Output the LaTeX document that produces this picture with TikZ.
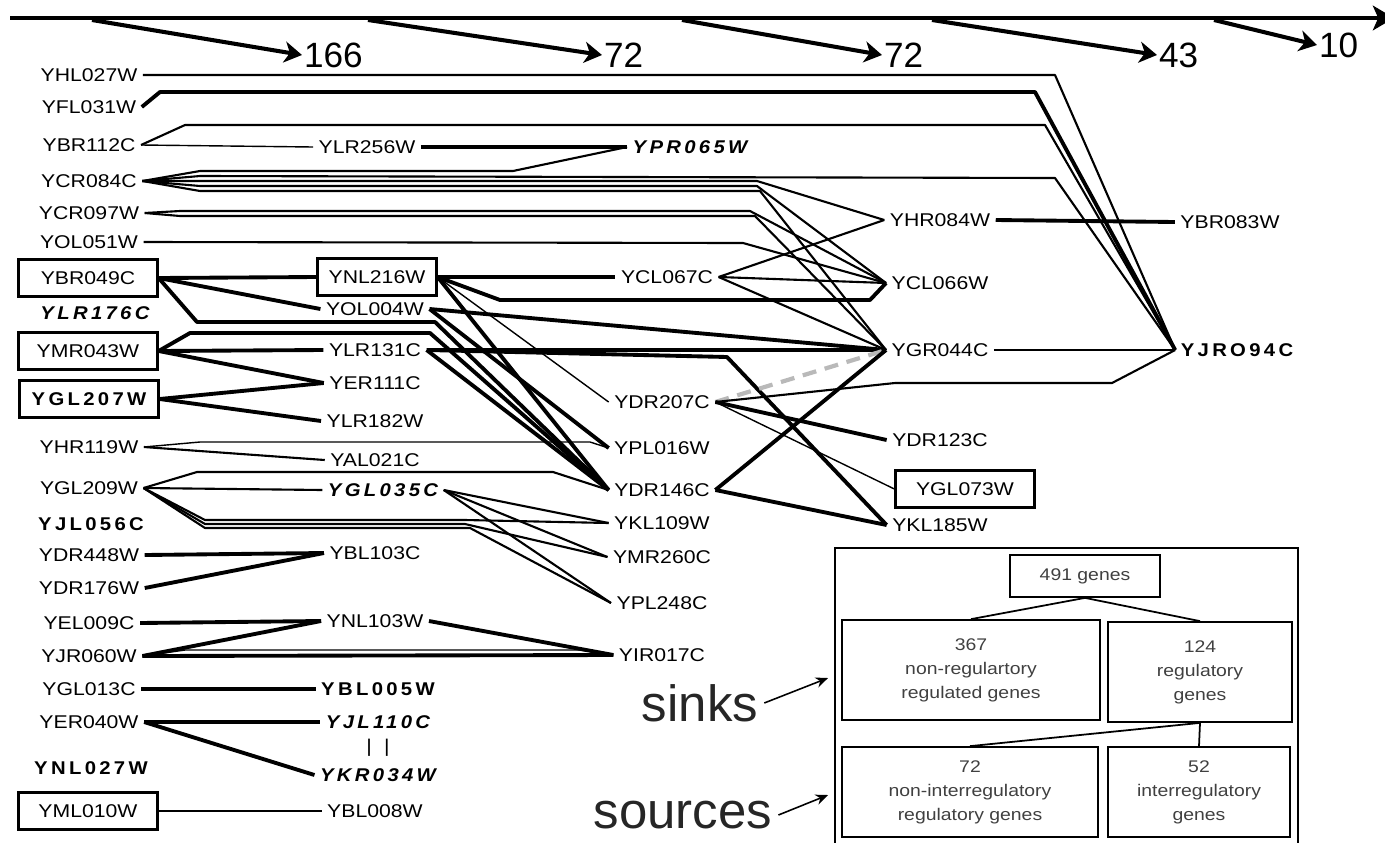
\documentclass[tikz,border=0pt]{standalone}
\usepackage{fontspec}
\setmainfont{Liberation Sans}
\newfontfamily\genefont[FakeStretch=1.15]{Liberation Sans}
\newfontfamily\selffont[FakeStretch=1.1,LetterSpace=18]{Liberation Sans}
\usetikzlibrary{arrows.meta,positioning}

\begin{document}
\begin{tikzpicture}[x=0.02cm,y=-0.02cm]
  \tikzset{gene/.style={font=\genefont\fontsize{10.5}{12}\selectfont,inner sep=3pt},
    selfgene/.style={font=\selffont\bfseries\fontsize{10.5}{12}\selectfont,inner sep=3pt},
    selfgeneit/.style={font=\selffont\bfseries\itshape\fontsize{10.5}{12}\selectfont,inner sep=3pt},
    boxed/.style={draw,line width=1.3pt,minimum width=2.78cm,minimum height=0.74cm},
    rel/.style={line width=1.2pt,line join=round},
    relthin/.style={line width=0.8pt,line join=round},
    relbold/.style={line width=2.2pt,line join=round},
    reldash/.style={line width=2.4pt,gray!55,dash pattern=on 8pt off 5pt},
    count/.style={font=\fontsize{20}{22}\selectfont,inner sep=1pt,anchor=west},
    drop/.style={line width=2.3pt,-{Stealth[length=10pt,width=12pt,inset=3pt]}},
    tally/.style={draw,line width=1pt,align=center,text=black!75,font=\genefont\fontsize{9.6}{13.6}\selectfont},
    tag/.style={font=\fontsize{29}{32}\selectfont,text=black!85},
    pointer/.style={line width=0.9pt,-{Stealth[length=7pt,width=6pt]}}}
  \useasboundingbox (0,0) rectangle (1385,842);

  % levels
  \coordinate (axisL) at (10,18);
  \coordinate (axisR) at (1394,18);
  \draw[line width=2.3pt,-{Stealth[length=12pt,width=14pt,inset=3pt]}] (axisL) -- (axisR);
  \node[count] (n166) at (302,55) {166};
  \node[count] (n72a) at (602,55) {72};
  \node[count] (n72b) at (882,55) {72};
  \node[count] (n43) at (1157,55) {43};
  \node[count] (n10) at (1317,45) {10};
  \foreach \s/\n in {92/n166,368/n72a,682/n72b,932/n43,1214/n10}{
    \coordinate (s\n) at (\s,20);
    \draw[drop] (s\n) -- (\n.west);
  }

  % genes, left column
  \foreach \g/\y in {YHL027W/75,YFL031W/107,YBR112C/145,YCR084C/181,YCR097W/213,YOL051W/242,YHR119W/447,YGL209W/488,YDR448W/555,YDR176W/588,YEL009C/623,YJR060W/656,YGL013C/689,YER040W/722}
    \node[gene] (\g) at (89,\y) {\g};
  \node[gene,boxed] (YBR049C) at (88,278) {YBR049C};
  \node[selfgeneit] (YLR176C) at (95,313) {YLR176C};
  \node[gene,boxed] (YMR043W) at (88,351) {YMR043W};
  \node[selfgene,boxed] (YGL207W) at (89,399) {YGL207W};
  \node[selfgene] (YJL056C) at (91,524) {YJL056C};
  \node[selfgene] (YNL027W) at (91,768) {YNL027W};
  \node[gene,boxed] (YML010W) at (88,811) {YML010W};

  % genes, second column
  \foreach \g/\y in {YOL004W/309,YLR131C/350,YER111C/383,YLR182W/421,YAL021C/460,YBL103C/553,YNL103W/621,YBL008W/811}
    \node[gene] (\g) at (375,\y) {\g};
  \node[gene] (YLR256W) at (367,147) {YLR256W};
  \node[selfgeneit] (YPR065W) at (690,147) {YPR065W};
  \node[gene,boxed,minimum width=2.38cm] (YNL216W) at (377,277) {YNL216W};
  \node[selfgeneit] (YGL035C) at (383,490) {YGL035C};
  \node[selfgene] (YBL005W) at (378,689) {YBL005W};
  \node[selfgeneit] (YJL110C) at (378,722) {YJL110C};
  \node[gene] (tie) at (378,748) {|\hspace{7pt}|};
  \node[selfgeneit] (YKR034W) at (378,775) {YKR034W};

  % genes, third column
  \foreach \g/\y in {YDR207C/402,YPL016W/448,YDR146C/490,YKL109W/523,YMR260C/557,YPL248C/603,YIR017C/655}
    \node[gene] (\g) at (662,\y) {\g};
  \node[gene] (YCL067C) at (667,277) {YCL067C};

  % genes, right
  \foreach \g/\y in {YHR084W/220,YCL066W/283,YGR044C/350,YDR123C/440,YKL185W/525}
    \node[gene] (\g) at (940,\y) {\g};
  \node[gene,boxed] (YGL073W) at (965,489) {YGL073W};
  \node[gene] (YBR083W) at (1230,222) {YBR083W};
  \node[selfgene] (YJRO94C) at (1237,350) {YJRO94C};

  % long routes to YJRO94C
  \draw[rel] (YHL027W.east) -- (1055,75) -- (YJRO94C.west);
  \draw[relbold] (YFL031W.east) -- (160,92) -- (1035,92) -- (YJRO94C.west);
  \draw[rel] (YBR112C.east) -- (185,125) -- (1045,125) -- (YJRO94C.west);
  \draw[relthin] (YBR112C.east) -- (YLR256W.west);
  \draw[relbold] (YLR256W.east) -- (YPR065W.west);
  \draw[rel] (YPR065W.west) -- (513,171) -- (200,171) -- (YCR084C.east);
  \draw[rel] (YCR084C.east) -- (200,176) -- (1055,178) -- (YJRO94C.west);
  \draw[rel] (YCR084C.east) -- (200,181) -- (757,181) -- (YHR084W.west);
  \draw[rel] (YCR084C.east) -- (200,186) -- (757,186) -- (YCL066W.west);
  \draw[rel] (YCR084C.east) -- (200,191) -- (760,191) -- (YGR044C.west);
  \draw[rel] (YCR097W.east) -- (180,211) -- (750,211) -- (YCL066W.west);
  \draw[rel] (YCR097W.east) -- (180,216) -- (755,216) -- (YGR044C.west);
  \draw[rel] (YOL051W.east) -- (743,243) -- (YCL066W.west);

  % upper block
  \draw[relbold] (YBR049C.east) -- (YNL216W.west);
  \draw[relbold] (YBR049C.east) -- (YOL004W.west);
  \draw[relbold] (YBR049C.east) -- (197,322) -- (435,322) -- (YDR146C.west);
  \draw[relbold] (YNL216W.east) -- (YCL067C.west);
  \draw[relbold] (YNL216W.east) -- (500,300) -- (870,300) -- (YCL066W.west);
  \draw[relthin] (YNL216W.east) -- (YDR207C.west);
  \draw[relbold] (YNL216W.east) -- (YDR146C.west);
  \draw[relbold] (YOL004W.east) -- (YGR044C.west);
  \draw[relbold] (YOL004W.east) -- (YPL016W.west);
  \draw[relbold] (YMR043W.east) -- (YLR131C.west);
  \draw[relbold] (YMR043W.east) -- (YER111C.west);
  \draw[relbold] (YMR043W.east) -- (190,333) -- (430,333) -- (YDR146C.west);
  \draw[relbold] (YLR131C.east) -- (YGR044C.west);
  \draw[relbold] (YLR131C.east) -- (727,357) -- (YKL185W.west);
  \draw[relbold] (YLR131C.east) -- (YDR146C.west);
  \draw[relbold] (YGL207W.east) -- (YER111C.west);
  \draw[relbold] (YGL207W.east) -- (YLR182W.west);
  \draw[rel] (YHR119W.east) -- (YAL021C.west);
  \draw[relthin] (YHR119W.east) -- (200,442) -- (590,442) -- (YPL016W.west);

  % middle block
  \draw[rel] (YGL209W.east) -- (YGL035C.west);
  \draw[rel] (YGL209W.east) -- (197,472) -- (553,472) -- (YDR146C.west);
  \draw[rel] (YGL209W.east) -- (205,520) -- (465,520) -- (YKL109W.west);
  \draw[rel] (YGL209W.east) -- (205,524) -- (465,524) -- (YMR260C.west);
  \draw[rel] (YGL209W.east) -- (205,528) -- (470,528) -- (YPL248C.west);
  \foreach \t in {YKL109W,YMR260C,YPL248C}
    \draw[rel] (YGL035C.east) -- (\t.west);

  % lower block
  \draw[relbold] (YDR448W.east) -- (YBL103C.west);
  \draw[relbold] (YDR176W.east) -- (YBL103C.west);
  \draw[relbold] (YEL009C.east) -- (YNL103W.west);
  \draw[relbold] (YJR060W.east) -- (YNL103W.west);
  \draw[relbold] (YJR060W.east) -- (YIR017C.west);
  \draw[relthin] (YJR060W.east) -- (185,650) -- (580,650) -- (YIR017C.west);
  \draw[relbold] (YNL103W.east) -- (YIR017C.west);
  \draw[relbold] (YGL013C.east) -- (YBL005W.west);
  \draw[relbold] (YER040W.east) -- (YJL110C.west);
  \draw[relbold] (YER040W.east) -- (YKR034W.west);
  \draw[relthin] (YML010W.east) -- (YBL008W.west);

  % right block
  \foreach \t in {YHR084W,YCL066W,YGR044C}
    \draw[rel] (YCL067C.east) -- (\t.west);
  \draw[relbold] (YHR084W.east) -- (YBR083W.west);
  \draw[rel] (YGR044C.east) -- (YJRO94C.west);
  \draw[reldash] (YDR207C.east) -- (YGR044C.west);
  \draw[rel] (YDR207C.east) -- (895,383) -- (1112,383) -- (YJRO94C.west);
  \draw[relbold] (YDR207C.east) -- (YDR123C.west);
  \draw[relthin] (YDR207C.east) -- (YGL073W.west);
  \draw[relbold] (YDR146C.east) -- (YGR044C.west);
  \draw[relbold] (YDR146C.east) -- (YKL185W.west);

  % inset
  \draw[line width=1pt] (835,548) rectangle (1298,880);
  \node[tally,minimum width=3cm,minimum height=0.84cm] (all) at (1085,576) {491 genes};
  \node[tally,minimum width=5.16cm,minimum height=2cm] (sinkset) at (971,670) {367\\non-regulartory\\regulated genes};
  \node[tally,minimum width=3.68cm,minimum height=2cm] (regset) at (1200,672) {124\\regulatory\\genes};
  \node[tally,minimum width=5.12cm,minimum height=1.8cm] (srcset) at (970,792) {72\\non-interregulatory\\regulatory genes};
  \node[tally,minimum width=3.64cm,minimum height=1.8cm] (interset) at (1199,792) {52\\interregulatory\\genes};
  \draw[line width=1pt] (all.south) -- (sinkset.north);
  \draw[line width=1pt] (all.south) -- (regset.north);
  \draw[line width=1pt] (regset.south) -- (srcset.north);
  \draw[line width=1pt] (regset.south) -- (interset.north);

  \node[tag] (sinks) at (700,703) {sinks};
  \node[tag] (sources) at (683,815) {sources};
  \coordinate (sinktip) at (828,678);
  \coordinate (sourcetip) at (828,795);
  \draw[pointer] (sinks.east) -- (sinktip);
  \draw[pointer] (sources.east) -- (sourcetip);
\end{tikzpicture}
\end{document}
